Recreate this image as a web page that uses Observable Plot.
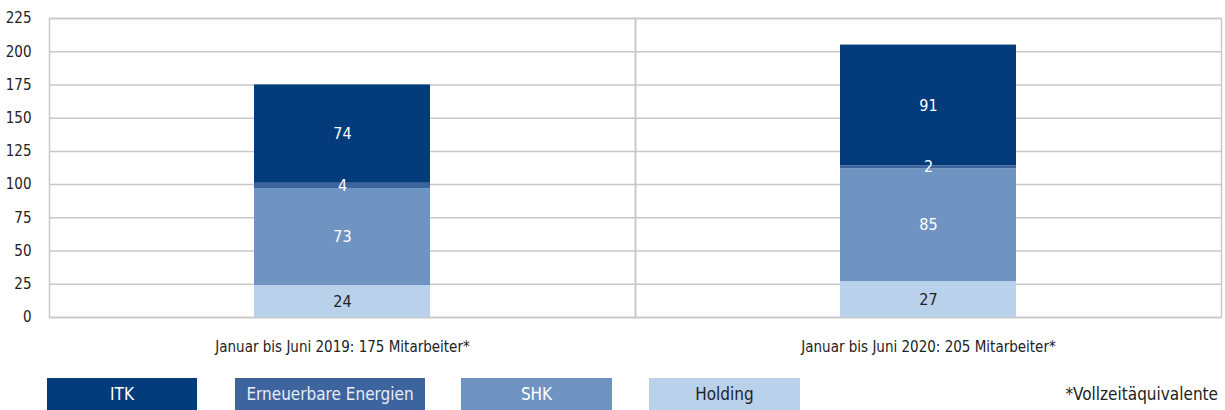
<!DOCTYPE html>
<html>
<head>
<meta charset="utf-8">
<script src="https://cdn.jsdelivr.net/npm/d3@7"></script>
<script src="https://cdn.jsdelivr.net/npm/@observablehq/plot@0.6"></script>
<style>
  html, body { margin: 0; padding: 0; background: #fff; }
  body { width: 1225px; height: 410px; overflow: hidden; font-family: "DejaVu Sans", sans-serif; font-stretch: condensed; }
  svg, svg text { font-stretch: condensed; }
  #legend { position: relative; height: 32px; margin-top: 8px; }
  .lg { position: absolute; top: 0; height: 32px; line-height: 32px; text-align: center; font-size: 17px; }
  #note { position: absolute; right: 7px; top: 0; height: 32px; line-height: 32px; font-size: 17px; color: #222; }
</style>
</head>
<body>
<div id="chart"></div>
<div id="legend"></div>
<script>
const periods = ["Januar bis Juni 2019: 175 Mitarbeiter*", "Januar bis Juni 2020: 205 Mitarbeiter*"];
const series = ["Holding", "SHK", "Erneuerbare Energien", "ITK"];
const values2019 = [24, 73, 4, 74];
const values2020 = [27, 85, 2, 91];
const colors = ["#bad1ec", "#6f94c1", "#3e64a0", "#033b7b"];
const yTicks = [0, 25, 50, 75, 100, 125, 150, 175, 200, 225];
const legendOrder = ["ITK", "Erneuerbare Energien", "SHK", "Holding"];
const legendLeft = [47, 235, 461, 649];
const legendWidth = [150, 190, 151, 151];
const note = "*Vollzeitäquivalente";

const data = [];
[values2019, values2020].forEach((vals, i) => {
  vals.forEach((v, j) => data.push({period: periods[i], series: series[j], value: v}));
});

const font = "'DejaVu Sans', sans-serif";

const chart = Plot.plot({
  width: 1225,
  height: 370,
  marginTop: 18,
  marginBottom: 53,
  marginLeft: 48,
  marginRight: 4,
  style: {fontFamily: font, fontSize: "15px", color: "#222", background: "#fff"},
  fx: {domain: periods, paddingInner: 0, paddingOuter: 0, label: null, axis: "bottom", tickSize: 0, tickPadding: 24},
  y: {domain: [0, 225], ticks: yTicks, label: null, tickSize: 0, tickPadding: 18},
  color: {domain: series, range: colors},
  marks: [
    Plot.ruleY(yTicks, {stroke: "#c8c8c8", strokeWidth: 1.5}),
    Plot.frame({stroke: "#c8c8c8", strokeWidth: 1.5}),
    Plot.barY(data, Plot.stackY({fx: "period", y: "value", fill: "series", order: series, insetLeft: 205, insetRight: 205})),
    Plot.text(data, Plot.stackY({fx: "period", y: "value", z: "series", order: series, text: d => d.series !== "Holding" ? String(d.value) : "", fill: "white", fontSize: 16, fontWeight: 500})),
    Plot.text(data, Plot.stackY({fx: "period", y: "value", z: "series", order: series, text: d => d.series === "Holding" ? String(d.value) : "", fill: "#222", fontSize: 16, fontWeight: 500}))
  ]
});
document.getElementById("chart").appendChild(chart);

const legend = document.getElementById("legend");
legendOrder.forEach((name, i) => {
  const el = document.createElement("div");
  el.className = "lg";
  el.style.left = legendLeft[i] + "px";
  el.style.width = legendWidth[i] + "px";
  el.style.background = colors[series.indexOf(name)];
  el.style.color = name === "Holding" ? "#222" : (name === "Erneuerbare Energien" ? "#e8eef6" : "#fff");
  el.textContent = name;
  legend.appendChild(el);
});
const n = document.createElement("div");
n.id = "note";
n.textContent = note;
legend.appendChild(n);
</script>
</body>
</html>
